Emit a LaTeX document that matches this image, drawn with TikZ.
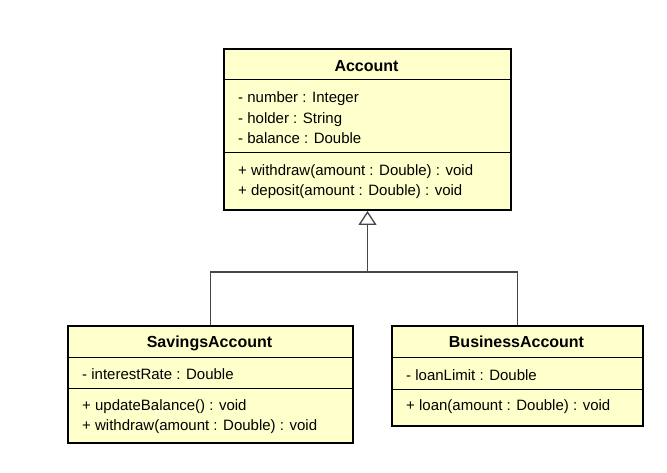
\documentclass[tikz,border=0pt]{standalone}
\usepackage{fontspec}
\setmainfont{Liberation Sans}
\usetikzlibrary{arrows.meta}
\definecolor{classfill}{RGB}{255,255,204}
\definecolor{connc}{RGB}{70,70,70}
\tikzset{
  classbox/.style={draw=black, line width=2pt, fill=classfill, anchor=north west, inner sep=0pt},
  divline/.style={draw=black, line width=1pt},
  rowtext/.style={anchor=base west, inner sep=0pt, font=\fontsize{15}{18}\selectfont},
  titletext/.style={anchor=base, inner sep=0pt, font=\fontsize{16}{18}\selectfont\bfseries},
  conn/.style={draw=connc, line width=1.3pt},
}
\begin{document}
\begin{tikzpicture}[x=1pt,y=-1pt]
\useasboundingbox (0,0) rectangle (667,473);
% Account
\node[classbox, minimum width=287pt, minimum height=161pt] (account) at (223,48) {};
\draw[divline] (account.west |- 0,80) -- (account.east |- 0,80);
\draw[divline] (account.west |- 0,153) -- (account.east |- 0,153);
\node[titletext] (accttitle) at (366.5,72) {Account};
\node[rowtext] (a1) at (238,103) {- number : Integer};
\node[rowtext] (a2) at (238,123.5) {- holder : String};
\node[rowtext] (a3) at (238,144) {- balance : Double};
\node[rowtext] (a4) at (238,176) {+ withdraw(amount : Double) : void};
\node[rowtext] (a5) at (238,196) {+ deposit(amount : Double) : void};
% SavingsAccount
\node[classbox, minimum width=285pt, minimum height=117pt] (savings) at (67,325) {};
\draw[divline] (savings.west |- 0,357) -- (savings.east |- 0,357);
\draw[divline] (savings.west |- 0,388) -- (savings.east |- 0,388);
\node[titletext] (savtitle) at (209.5,347) {SavingsAccount};
\node[rowtext] (s1) at (82,379) {- interestRate : Double};
\node[rowtext] (s2) at (82,410) {+ updateBalance() : void};
\node[rowtext] (s3) at (82,430) {+ withdraw(amount : Double) : void};
% BusinessAccount
\node[classbox, minimum width=251pt, minimum height=100pt] (business) at (391,325) {};
\draw[divline] (business.west |- 0,357) -- (business.east |- 0,357);
\draw[divline] (business.west |- 0,389) -- (business.east |- 0,389);
\node[titletext] (bustitle) at (516.5,347) {BusinessAccount};
\node[rowtext] (b1) at (406,380) {- loanLimit : Double};
\node[rowtext] (b2) at (406,410) {+ loan(amount : Double) : void};
% Generalization
\coordinate (joint) at (account.south |- 0,272);
\draw[conn] (savings.north) |- (joint) -| (business.north);
\draw[conn, -{Triangle[open, length=14pt, width=18pt, line width=1.3pt]}] (joint) -- (account.south);
\end{tikzpicture}
\end{document}
